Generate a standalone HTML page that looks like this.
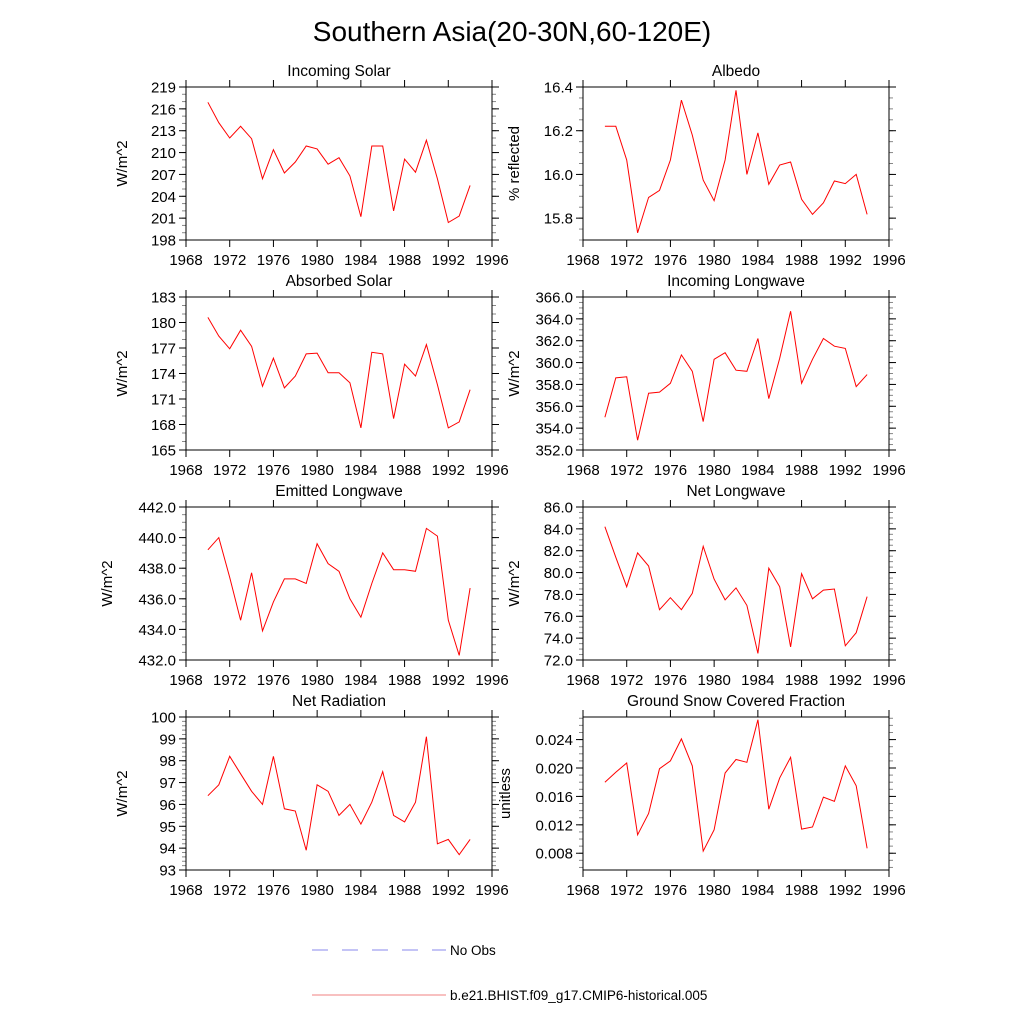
<!DOCTYPE html>
<html><head><meta charset="utf-8"><style>
body{margin:0;background:#fff}
svg{display:block;font-family:"Liberation Sans",sans-serif}
</style></head><body>
<svg id="chart" width="1024" height="1024" viewBox="0 0 1024 1024">
<text x="512" y="41" font-size="28" text-anchor="middle">Southern Asia(20-30N,60-120E)</text>
<g id="panels"></g>
<g>
<line x1="312" y1="950" x2="446" y2="950" stroke="#8888ee" stroke-width="1" stroke-dasharray="16,14"/>
<text x="450" y="955" font-size="13.5">No Obs</text>
<line x1="312" y1="995" x2="446" y2="995" stroke="#f08080" stroke-width="1"/>
<text x="450" y="1000" font-size="13.5">b.e21.BHIST.f09_g17.CMIP6-historical.005</text>
</g>
</svg>
<script>
const years=[1970,1971,1972,1973,1974,1975,1976,1977,1978,1979,1980,1981,1982,1983,1984,1985,1986,1987,1988,1989,1990,1991,1992,1993,1994];
const xTicks=[1968,1972,1976,1980,1984,1988,1992,1996];
const incomingSolar=[216.9,214.1,212.0,213.6,211.9,206.4,210.4,207.2,208.7,210.9,210.5,208.4,209.3,206.8,201.2,210.9,210.9,202.0,209.1,207.3,211.7,206.4,200.4,201.3,205.5];
const albedo=[16.22,16.22,16.066,15.733,15.895,15.927,16.066,16.34,16.18,15.974,15.88,16.066,16.385,16.0,16.19,15.955,16.043,16.057,15.886,15.817,15.87,15.97,15.958,16.0,15.817];
const absorbedSolar=[180.6,178.4,176.9,179.1,177.2,172.5,175.8,172.3,173.7,176.3,176.4,174.1,174.1,172.9,167.6,176.5,176.3,168.7,175.1,173.7,177.4,172.7,167.6,168.3,172.1];
const incomingLW=[355.0,358.6,358.7,352.9,357.2,357.3,358.1,360.7,359.2,354.6,360.3,360.9,359.3,359.2,362.2,356.7,360.4,364.7,358.1,360.3,362.2,361.5,361.3,357.8,358.9];
const emittedLW=[439.2,440.0,437.4,434.6,437.7,433.9,435.8,437.3,437.3,437.0,439.6,438.3,437.8,436.0,434.8,437.0,439.0,437.9,437.9,437.8,440.6,440.1,434.6,432.3,436.7];
const netLW=[84.2,81.4,78.7,81.8,80.6,76.6,77.7,76.6,78.1,82.4,79.4,77.5,78.6,77.0,72.6,80.4,78.7,73.2,79.9,77.6,78.4,78.5,73.3,74.5,77.8];
const netRad=[96.4,96.9,98.2,97.4,96.6,96.0,98.2,95.8,95.7,93.9,96.9,96.6,95.5,96.0,95.1,96.1,97.5,95.5,95.2,96.1,99.1,94.2,94.4,93.7,94.4];
const snowFrac=[0.0180,0.0194,0.0207,0.0106,0.0136,0.0199,0.0210,0.0241,0.0203,0.0083,0.0113,0.0193,0.0212,0.0208,0.0268,0.0142,0.0186,0.0215,0.0114,0.0117,0.0159,0.0153,0.0203,0.0175,0.0087];

const panels=[
 {name:'incoming-solar',title:'Incoming Solar',yt:'W/m^2',data:incomingSolar,min:198,max:219,maj:3,mnr:1,dec:0,col:0,row:0,tx:127},
 {name:'albedo',title:'Albedo',yt:'% reflected',data:albedo,min:15.7,max:16.4,maj:0.2,mnr:0.05,dec:1,col:1,row:0,tx:519,start:15.8},
 {name:'absorbed-solar',title:'Absorbed Solar',yt:'W/m^2',data:absorbedSolar,min:165,max:183,maj:3,mnr:1,dec:0,col:0,row:1,tx:127},
 {name:'incoming-longwave',title:'Incoming Longwave',yt:'W/m^2',data:incomingLW,min:352,max:366,maj:2,mnr:0.5,dec:1,col:1,row:1,tx:519},
 {name:'emitted-longwave',title:'Emitted Longwave',yt:'W/m^2',data:emittedLW,min:432,max:442,maj:2,mnr:0.5,dec:1,col:0,row:2,tx:112},
 {name:'net-longwave',title:'Net Longwave',yt:'W/m^2',data:netLW,min:72,max:86,maj:2,mnr:0.5,dec:1,col:1,row:2,tx:519},
 {name:'net-radiation',title:'Net Radiation',yt:'W/m^2',data:netRad,min:93,max:100,maj:1,mnr:0.2,dec:0,col:0,row:3,tx:127},
 {name:'ground-snow',title:'Ground Snow Covered Fraction',yt:'unitless',data:snowFrac,min:0.00564,max:0.02718,maj:0.004,mnr:0.001,dec:3,col:1,row:3,tx:510,start:0.008,mstart:0.006}
];
const NS='http://www.w3.org/2000/svg';
const root=document.getElementById('panels');
function mk(tag,attrs,parent){const e=document.createElementNS(NS,tag);for(const k in attrs)e.setAttribute(k,attrs[k]);parent.appendChild(e);return e;}
const lefts=[186,583],tops=[87,297,507,717],W=306,H=153;
panels.forEach(p=>{
 const L=lefts[p.col],T=tops[p.row],R=L+W,B=T+H;
 const g=mk('g',{},root);
 
 
 const xs=v=>L+(v-1968)/(1996-1968)*W;
 const ys=v=>B-(v-p.min)/(p.max-p.min)*H;
 const m0=p.mstart!==undefined?p.mstart:Math.ceil(p.min/p.mnr-1e-6)*p.mnr;
 for(let v=m0;v<=p.max+1e-9;v+=p.mnr){const y=ys(v);if(y<T-0.5||y>B+0.5)continue;
  const t1=mk('line',{x1:L-4,x2:L,y1:y,y2:y,stroke:'#888','stroke-width':1},g);
  
  const t2=mk('line',{x1:R,x2:R+4,y1:y,y2:y,stroke:'#888','stroke-width':1},g);
  }
 const s0=p.start!==undefined?p.start:p.min;
 for(let v=s0;v<=p.max+1e-9;v+=p.maj){const y=ys(v);
  const t1=mk('line',{x1:L-7,x2:L,y1:y,y2:y,stroke:'#000','stroke-width':1},g);
  
  const t2=mk('line',{x1:R,x2:R+7,y1:y,y2:y,stroke:'#000','stroke-width':1},g);
  
  const tl=mk('text',{x:L-10,y:y+5.5,'font-size':15,'text-anchor':'end'},g);
  
  tl.textContent=v.toFixed(p.dec);}
 xTicks.forEach(v=>{const x=xs(v);
  const a=mk('line',{x1:x,x2:x,y1:B,y2:B+7,stroke:'#000','stroke-width':1},g);
  
  const b=mk('line',{x1:x,x2:x,y1:T-7,y2:T,stroke:'#000','stroke-width':1},g);
  
  const tl=mk('text',{x:x,y:B+25,'font-size':15,'text-anchor':'middle'},g);
  
  tl.textContent=v;});
 const fr=mk('rect',{x:L,y:T,width:W,height:H,fill:'none',stroke:'#000','stroke-width':1},g);
 
 const pl=mk('polyline',{points:years.map((yr,i)=>xs(yr).toFixed(1)+','+ys(p.data[i]).toFixed(1)).join(' '),fill:'none',stroke:'#ff0000','stroke-width':1},g);
 
 const ti=mk('text',{x:L+W/2,y:T-11,'font-size':15.5,'text-anchor':'middle'},g);
 
 ti.textContent=p.title;
 const cy=T+H/2;
 const yt=mk('text',{x:p.tx,y:cy,'font-size':15,'text-anchor':'middle',transform:'rotate(-90 '+p.tx+' '+cy+')'},g);
 
 yt.textContent=p.yt;
});
</script>
</body></html>
